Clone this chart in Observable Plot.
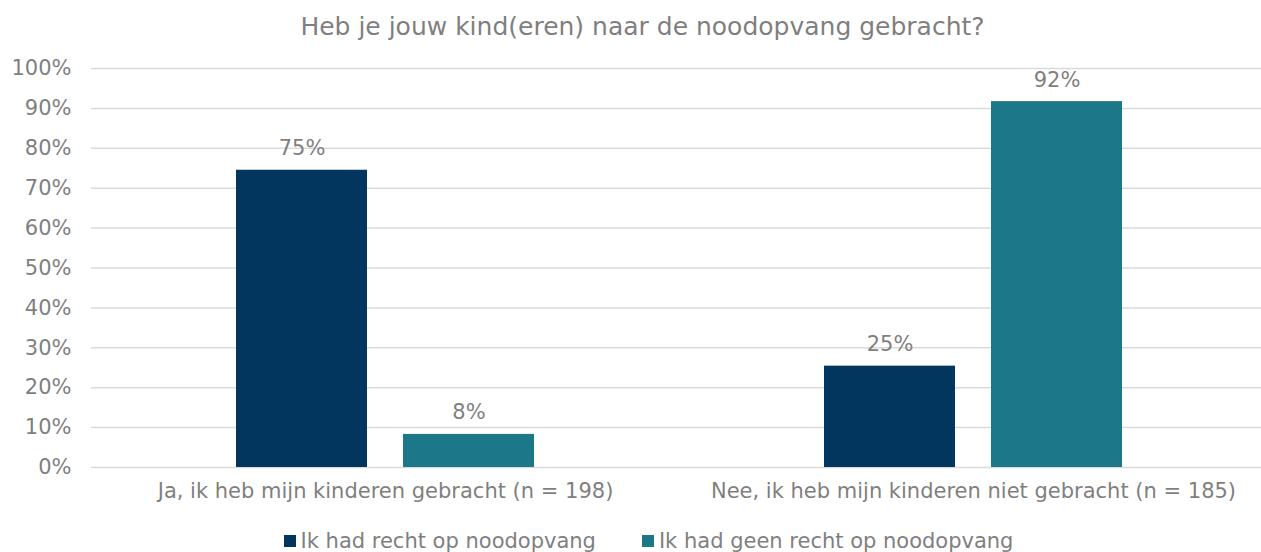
<!DOCTYPE html>
<html>
<head>
<meta charset="utf-8">
<script src="https://cdn.jsdelivr.net/npm/d3@7"></script>
<script src="https://cdn.jsdelivr.net/npm/@observablehq/plot@0.6"></script>
<style>
  html, body { margin: 0; padding: 0; background: #fff; }
  body { width: 1261px; height: 552px; overflow: hidden; font-family: "DejaVu Sans", Verdana, sans-serif; color: #7f7f7f; }
  #title { height: 56px; line-height: 54px; font-size: 25px; text-align: center; padding-left: 24px; box-sizing: border-box; white-space: nowrap; }
  #legend { display: flex; justify-content: center; align-items: center; gap: 46px; height: 45px; font-size: 21px; padding-left: 36px; padding-top: 22px; box-sizing: border-box; }
  .item { display: flex; align-items: center; gap: 5px; white-space: nowrap; }
  .sw { width: 12px; height: 12px; display: inline-block; }
  svg { display: block; }
</style>
</head>
<body>
<div id="title"></div>
<div id="chart"></div>
<div id="legend"></div>
<script>
const titleText = "Heb je jouw kind(eren) naar de noodopvang gebracht?";
const groups = ["Ja, ik heb mijn kinderen gebracht (n = 198)", "Nee, ik heb mijn kinderen niet gebracht (n = 185)"];
const series = ["Ik had recht op noodopvang", "Ik had geen recht op noodopvang"];
const rechtValues = [74.5, 25.4];
const geenRechtValues = [8.3, 91.7];
const colors = ["#02365f", "#1c7789"];
const yTicks = [0, 10, 20, 30, 40, 50, 60, 70, 80, 90, 100];

const data = groups.flatMap((g, i) => [
  {group: g, series: series[0], value: rechtValues[i]},
  {group: g, series: series[1], value: geenRechtValues[i]}
]);

document.getElementById("title").textContent = titleText;

const chart = Plot.plot({
  width: 1261,
  height: 451,
  marginLeft: 90,
  marginRight: 0,
  marginTop: 12,
  marginBottom: 40,
  style: {fontFamily: "'DejaVu Sans', Verdana, sans-serif", fontSize: "21px", color: "#7f7f7f", background: "#fff"},
  fx: {domain: groups, range: [90.75, 1267.25], padding: 0, label: null, axis: "bottom", tickSize: 0, tickPadding: 16},
  x: {domain: series, paddingInner: 0.214, paddingOuter: 0.859, axis: null},
  y: {domain: [0, 100], ticks: yTicks, tickFormat: d => d + "%", label: null, tickSize: 0, tickPadding: 20},
  color: {domain: series, range: colors},
  marks: [
    Plot.ruleY(yTicks, {stroke: "#dadada", strokeWidth: 1.5}),
    Plot.barY(data, {fx: "group", x: "series", y: "value", fill: "series"}),
    Plot.text(data, {fx: "group", x: "series", y: "value", text: d => Math.round(d.value) + "%", lineAnchor: "bottom", dy: -15, fill: "#7f7f7f", fontSize: 21})
  ]
});
document.getElementById("chart").appendChild(chart);

const legend = document.getElementById("legend");
series.forEach((s, i) => {
  const item = document.createElement("div");
  item.className = "item";
  const sw = document.createElement("span");
  sw.className = "sw";
  sw.style.background = colors[i];
  const label = document.createElement("span");
  label.textContent = s;
  item.appendChild(sw);
  item.appendChild(label);
  legend.appendChild(item);
});
</script>
</body>
</html>
